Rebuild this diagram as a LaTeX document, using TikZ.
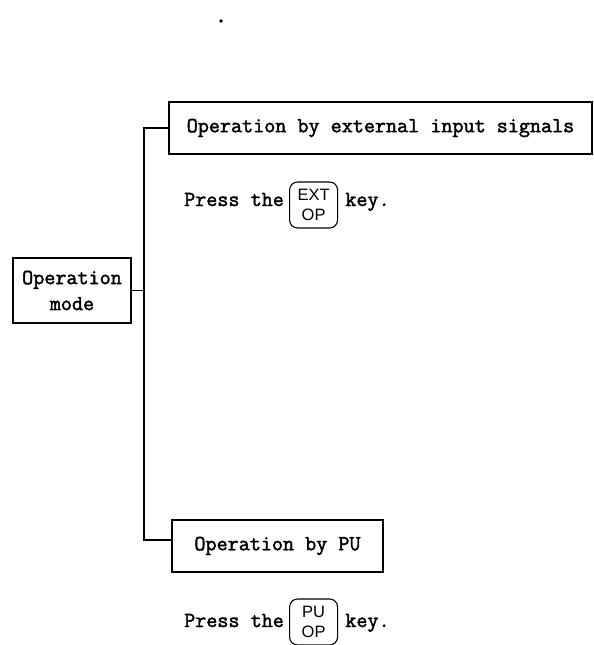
\documentclass[tikz,border=0pt]{standalone}
\usepackage{fontspec}
\newfontfamily\reftt{Latin Modern Mono}[FakeBold=2]
\newfontfamily\keyfont{Liberation Sans}
\tikzset{
  lbl/.style={font=\reftt\fontsize{21.5}{26}\selectfont, inner sep=0pt},
  box/.style={draw, line width=1.3pt, lbl, align=center},
  keycap/.style={draw, line width=1.1pt, rounded corners=8pt, inner sep=0pt,
    align=center, font=\keyfont\fontsize{16.5}{20}\selectfont},
  wire/.style={line width=1.3pt}
}
\begin{document}
\begin{tikzpicture}[x=1pt,y=-1pt]
\useasboundingbox (0,0) rectangle (594,645);
% boxes
\node[box, minimum width=423pt, minimum height=52pt] (ext) at (380.5,128) {Operation by external input signals};
\node[box, minimum width=118pt, minimum height=65pt] (mode) at (72,290.5) {Operation\\mode};
\node[box, minimum width=211pt, minimum height=52pt] (pu) at (277.5,546) {Operation by PU};
% connectors
\coordinate (vx) at (144,0);
\coordinate (pustub) at ([yshift=6pt]pu.west);
\draw[wire] (ext.west) -- (ext.west -| vx) -- (pustub -| vx) -- (pustub);
\draw[wire] (mode.east) -- (mode.east -| vx);
% key instructions
\node[lbl, anchor=base west] (p1) at (184,206) {Press the};
\node[keycap, minimum width=48pt, minimum height=46pt, anchor=west] (k1) at ([xshift=5pt]p1.east |- 0,205) {EXT\\OP};
\node[lbl, anchor=base west] (q1) at ([xshift=7pt]k1.east |- p1.base) {key.};
\node[lbl, anchor=base west] (p2) at (184,627) {Press the};
\node[keycap, minimum width=48pt, minimum height=46pt, anchor=west] (k2) at ([xshift=5pt]p2.east |- 0,622) {PU\\OP};
\node[lbl, anchor=base west] (q2) at ([xshift=7pt]k2.east |- p2.base) {key.};
% speck
\fill (221,21) circle (1.8pt);
\end{tikzpicture}
\end{document}
